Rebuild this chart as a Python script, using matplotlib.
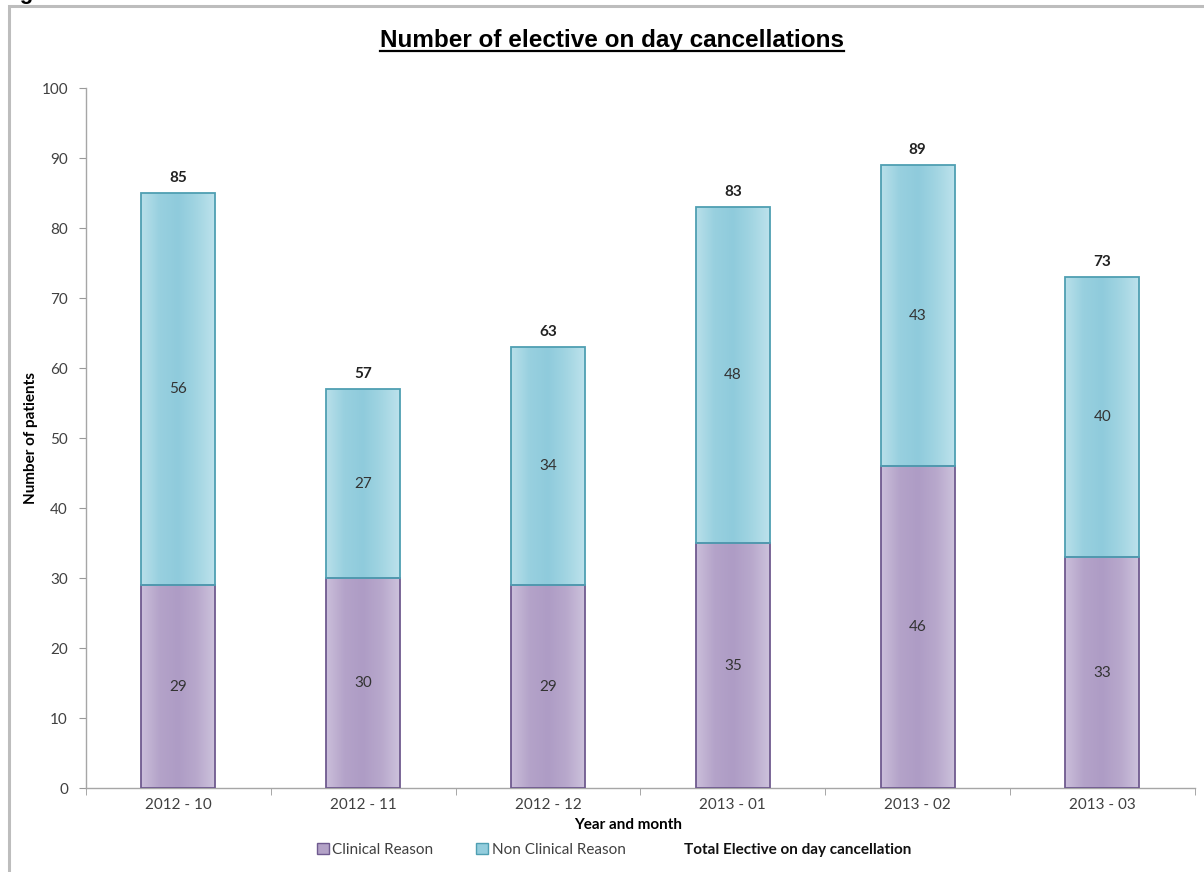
import matplotlib.pyplot as plt, numpy as np
from matplotlib.patches import Rectangle, Patch
from matplotlib.lines import Line2D
from matplotlib.colors import LinearSegmentedColormap

months = ['2012 - 10', '2012 - 11', '2012 - 12', '2013 - 01', '2013 - 02', '2013 - 03']
clinical = [29, 30, 29, 35, 46, 33]
non_clinical = [56, 27, 34, 48, 43, 40]
totals = [85, 57, 63, 83, 89, 73]

BODY = ['Lato', 'DejaVu Sans']
FS = 11
PURPLE = ['#cbbfdb', '#b4a3c9', '#ae9cc5', '#b8a8cc', '#cdc2dc']
BLUE = ['#b9e0ea', '#98d0df', '#8fcbdc', '#a2d5e2', '#bde2ec']

fig = plt.figure(figsize=(12.04, 8.72), dpi=100)
ax = fig.add_axes([0.0714, 0.0963, 0.921, 0.8027])

# page frame around the chart
fig.patches.append(Rectangle((0.0075, -0.05), 1.05, 1.043, transform=fig.transFigure,
                             fill=False, edgecolor='#bdbdbd', linewidth=2.2))
fig.text(0.0, 1.0 + 1.5 / 872, 'Figure 3', fontsize=16, fontweight='bold',
         family='Liberation Sans', va='baseline', ha='left')

x = np.arange(len(months))
width = 0.4


def shade(bars, stops):
    cmap = LinearSegmentedColormap.from_list('g', stops)
    grad = np.linspace(0, 1, 256).reshape(1, -1)
    for b in bars:
        x0, y0 = b.get_x(), b.get_y()
        im = ax.imshow(grad, cmap=cmap, aspect='auto', zorder=2,
                       extent=(x0, x0 + b.get_width(), y0, y0 + b.get_height()))
        im.set_clip_path(b)


b1 = ax.bar(x, clinical, width, color='#b3a2c7', edgecolor='#6f5a8f', linewidth=1.3, zorder=3)
b2 = ax.bar(x, non_clinical, width, bottom=clinical, color='#93cddd',
            edgecolor='#4f9fb2', linewidth=1.3, zorder=3)
for b in list(b1) + list(b2):
    b.set_facecolor('none')
shade(b1, PURPLE)
shade(b2, BLUE)

for i in range(len(months)):
    ax.text(x[i], clinical[i] / 2, str(clinical[i]), ha='center', va='center',
            fontsize=FS, family=BODY, color='#333333', zorder=4)
    ax.text(x[i], clinical[i] + non_clinical[i] / 2, str(non_clinical[i]), ha='center',
            va='center', fontsize=FS, family=BODY, color='#333333', zorder=4)
    ax.annotate(str(totals[i]), (x[i], totals[i]), xytext=(0, 6), textcoords='offset points',
                ha='center', va='bottom', fontsize=FS, family=BODY, fontweight='bold',
                color='#222222')

ax.set_xlim(-0.5, len(months) - 0.5)
ax.set_ylim(0, 100)
ax.set_yticks(range(0, 101, 10))
ax.set_xticks(x)
ax.set_xticklabels(months)
ax.set_xticks(np.arange(-0.5, len(months)), minor=True)
ax.tick_params(axis='x', which='major', length=0, pad=7)
ax.tick_params(axis='x', which='minor', length=5, color='#999999', direction='out')
ax.tick_params(axis='y', length=5, color='#999999', pad=8)
for lab in ax.get_xticklabels() + ax.get_yticklabels():
    lab.set_family(BODY)
    lab.set_fontsize(FS)
    lab.set_color('#404040')
for s in ['top', 'right']:
    ax.spines[s].set_visible(False)
for s in ['left', 'bottom']:
    ax.spines[s].set_color('#a6a6a6')
    ax.spines[s].set_linewidth(1.0)

ax.set_xlabel('Year and month', family=BODY, fontsize=FS, fontweight='bold')
ax.xaxis.set_label_coords(0.489, -0.043)
ax.set_ylabel('Number of patients', family=BODY, fontsize=FS, fontweight='bold')
ax.yaxis.set_label_coords(-0.043, 0.5)

title = fig.text(0.508, 1 - 40 / 872, 'Number of elective on day cancellations',
                 family='Liberation Sans', fontsize=17.5, fontweight='bold',
                 ha='center', va='center')

# underline the title
fig.canvas.draw()
bb = title.get_window_extent().transformed(fig.transFigure.inverted())
fig.add_artist(Line2D([bb.x0, bb.x1], [bb.y0 + 0.0005, bb.y0 + 0.0005],
                      transform=fig.transFigure, color='black', linewidth=1.6))

handles = [Patch(facecolor='#b3a2c7', edgecolor='#6f5a8f', label='Clinical Reason'),
           Patch(facecolor='#93cddd', edgecolor='#4f9fb2', label='Non Clinical Reason'),
           Line2D([], [], linestyle='none', label='Total Elective on day cancellation')]
leg = fig.legend(handles=handles, loc='center', bbox_to_anchor=(0.510, 0.025), ncol=3,
                 frameon=False, handlelength=0.75, handleheight=0.75, handletextpad=0.25,
                 columnspacing=2.8, prop={'family': BODY, 'size': FS})
for t in leg.get_texts():
    t.set_color('#404040')
leg.get_texts()[2].set_fontweight('bold')
leg.get_texts()[2].set_color('#111111')

fig.savefig('out.png', dpi=100)
